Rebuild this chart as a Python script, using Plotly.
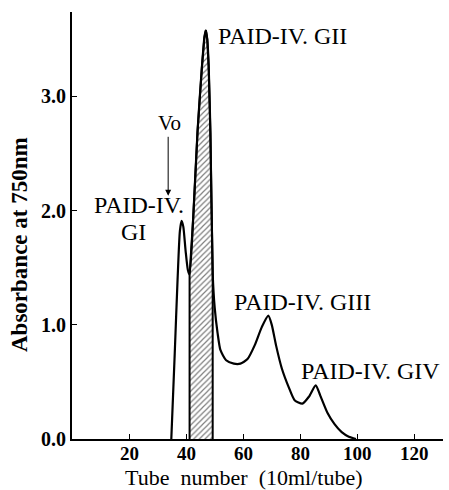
import plotly.graph_objects as go

# Elution profile (tube number, absorbance at 750 nm)
tube = [34.8, 36.0, 37.0, 37.8, 38.4, 39.0, 39.8, 40.6, 41.2, 42.5, 44.0, 45.5, 46.4, 46.9,
        47.4, 47.9, 48.5, 49.3, 50.0, 51.0, 52.0, 54.0, 56.7, 59.0, 61.5, 64.0, 66.5,
        68.8, 70.0, 71.5, 73.5, 76.0, 78.0, 80.7, 83.0, 85.4, 87.0, 89.5, 92.0, 94.5,
        97.0, 99.5]
absorb = [0.0, 0.75, 1.4, 1.82, 1.91, 1.86, 1.65, 1.48, 1.44, 1.95, 2.7, 3.25, 3.52, 3.58,
          3.5, 3.26, 2.68, 1.45, 1.15, 0.93, 0.78, 0.69, 0.66, 0.66, 0.7, 0.82, 0.98,
          1.08, 1.0, 0.82, 0.62, 0.45, 0.34, 0.31, 0.37, 0.47, 0.38, 0.23, 0.13, 0.06,
          0.02, 0.0]

# Pooled fraction (hatched) PAID-IV. GII
pool_range = [41.2, 49.3]

# Void volume marker
vo_tube = 33.7
vo_arrow = [2.66, 2.13]

peak_labels = ["PAID-IV. GII", "PAID-IV. GIII", "PAID-IV. GIV"]
peak_label_x = [50.6, 56.0, 79.6]
peak_label_y = [3.53, 1.2, 0.6]

x_ticks = [20, 40, 60, 80, 100, 120]
x_tick_text = ["20", "40", "60", "80", "100", "120"]
y_ticks = [0.0, 1.0, 2.0, 3.0]
y_tick_text = ["0.0", "1.0", "2.0", "3.0"]

SERIF = "Liberation Serif"
LABEL_SIZE = 24
W, H = 449, 490
ML, MR, MT, MB = 72, 6, 12, 51

pool_x = [pool_range[0]] + [t for t in tube if pool_range[0] <= t <= pool_range[1]] + [pool_range[1]]
pool_y = [0.0] + [a for t, a in zip(tube, absorb) if pool_range[0] <= t <= pool_range[1]] + [0.0]

fig = go.Figure()
fig.add_trace(go.Scatter(
    x=pool_x, y=pool_y, mode="lines", fill="toself",
    fillcolor="white",
    fillpattern=dict(shape="/", fgcolor="black", bgcolor="white", size=4, solidity=0.3),
    line=dict(color="black", width=2), hoverinfo="skip", showlegend=False))
fig.add_trace(go.Scatter(
    x=tube, y=absorb, mode="lines", line=dict(color="black", width=2.2, shape="spline", smoothing=0.6),
    showlegend=False))


def px_x(p):
    return (p - ML) / (W - ML - MR)


def px_y(p):
    return (H - MB - p) / (H - MT - MB)


annotations = []
for txt, lx, ly in zip(peak_labels, peak_label_x, peak_label_y):
    annotations.append(dict(x=lx, y=ly, xref="x", yref="y", text=txt, showarrow=False,
                            xanchor="left", yanchor="middle",
                            font=dict(family=SERIF, size=LABEL_SIZE, color="black")))
annotations.append(dict(x=23.6, y=2.05, xref="x", yref="y", text="PAID-IV.", showarrow=False,
                        xanchor="center", yanchor="middle",
                        font=dict(family=SERIF, size=LABEL_SIZE, color="black")))
annotations.append(dict(x=21.5, y=1.81, xref="x", yref="y", text="GI", showarrow=False,
                        xanchor="center", yanchor="middle",
                        font=dict(family=SERIF, size=LABEL_SIZE, color="black")))
annotations.append(dict(x=vo_tube + 0.4, y=vo_arrow[0] + 0.11, xref="x", yref="y", text="Vo",
                        showarrow=False, xanchor="center", yanchor="middle",
                        font=dict(family=SERIF, size=21, color="black")))
annotations.append(dict(x=vo_tube, y=vo_arrow[1], ax=vo_tube, ay=vo_arrow[0], xref="x", yref="y",
                        axref="x", ayref="y", text="", showarrow=True, arrowhead=2,
                        arrowsize=1.2, arrowwidth=1, arrowcolor="black"))
# x tick labels, set close under the axis as in the reference
for tv, tt in zip(x_ticks, x_tick_text):
    annotations.append(dict(x=tv, y=px_y(453), xref="x", yref="paper", text="<b>%s</b>" % tt,
                            showarrow=False, xanchor="center", yanchor="middle",
                            font=dict(family=SERIF, size=19, color="black")))
# axis titles, placed as in the reference
annotations.append(dict(x=px_x(20), y=px_y(245), xref="paper", yref="paper",
                        text="<b>Absorbance at 750nm</b>",
                        showarrow=False, textangle=-90, xanchor="center", yanchor="middle",
                        font=dict(family=SERIF, size=23, color="black")))
annotations.append(dict(x=px_x(244), y=px_y(477), xref="paper", yref="paper",
                        text="Tube  number  (10ml/tube)",
                        showarrow=False, xanchor="center", yanchor="middle",
                        font=dict(family=SERIF, size=22, color="black")))

fig.update_layout(
    width=W, height=H,
    margin=dict(l=ML, r=MR, t=MT, b=MB),
    paper_bgcolor="white", plot_bgcolor="white",
    annotations=annotations,
    xaxis=dict(range=[0, 130], tickvals=x_ticks, showticklabels=False,
               ticks="inside", ticklen=5, tickwidth=1.2,
               tickcolor="black", showline=True, linecolor="black", linewidth=2,
               showgrid=False, zeroline=False),
    yaxis=dict(range=[0, 3.74], tickvals=y_ticks, ticktext=["<b>%s</b>" % t for t in y_tick_text],
               ticks="inside",
               ticklen=5, tickwidth=1.2, tickcolor="black", showline=True, linecolor="black",
               linewidth=2, showgrid=False, zeroline=False,
               tickfont=dict(family=SERIF, size=20, color="black")),
)

fig.write_html("out.html")
